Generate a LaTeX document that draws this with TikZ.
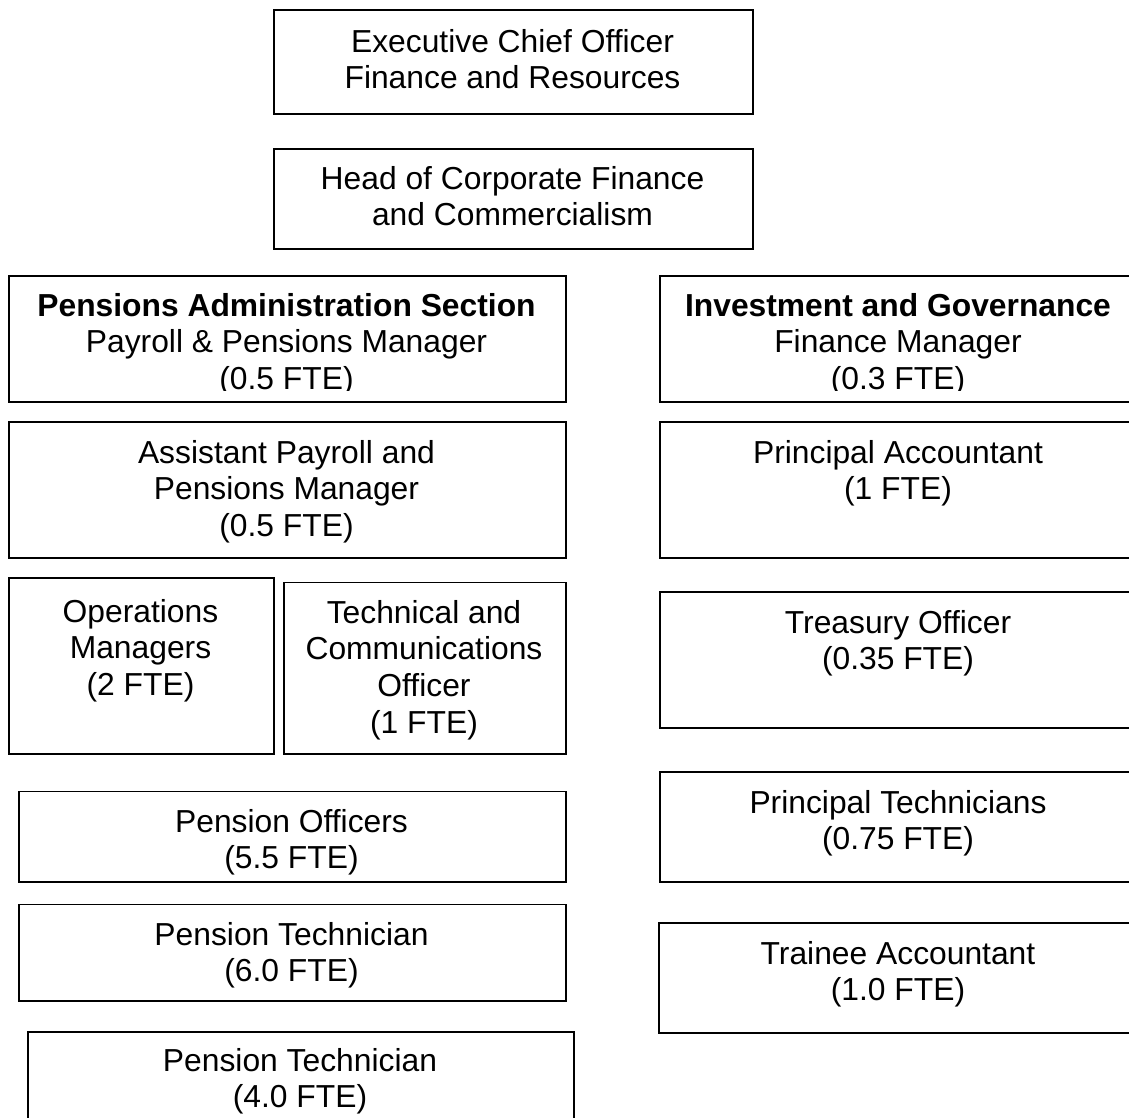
\documentclass[tikz,border=0pt]{standalone}
\usepackage{fontspec}
\setmainfont{Liberation Sans}
\begin{document}
\begin{tikzpicture}[x=1pt,y=-1pt,
  orgbox/.style={draw=black, line width=1.5pt, inner sep=0pt, anchor=north west},
  lbl/.style={anchor=north, align=center, inner sep=0pt, font=\fontsize{31.8}{36.6}\selectfont}]
\clip (0,0) rectangle (1129,1117);
\fill[white] (0,0) rectangle (1129,1117);
% boxes
\node[orgbox, minimum width=479pt, minimum height=104pt] (exec) at (273,9) {};
\node[orgbox, minimum width=479pt, minimum height=100pt] (head) at (273,148) {};
\node[orgbox, minimum width=557pt, minimum height=126pt] (pas) at (8,275) {};
\node[orgbox, minimum width=478pt, minimum height=126pt] (ig) at (659,275) {};
\node[orgbox, minimum width=557pt, minimum height=136pt] (apm) at (8,421) {};
\node[orgbox, minimum width=478pt, minimum height=136pt] (pa) at (659,421) {};
\node[orgbox, minimum width=265pt, minimum height=176pt] (ops) at (8,577) {};
\node[orgbox, minimum width=282pt, minimum height=171.5pt] (tco) at (283,581.5) {};
\node[orgbox, minimum width=478pt, minimum height=136pt] (tro) at (659,591) {};
\node[orgbox, minimum width=547pt, minimum height=90.5pt] (po) at (18,790.5) {};
\node[orgbox, minimum width=478pt, minimum height=110pt] (pt) at (659,771) {};
\node[orgbox, minimum width=547pt, minimum height=96.5pt] (pt6) at (18,903.5) {};
\node[orgbox, minimum width=479pt, minimum height=110pt] (ta) at (658,922) {};
\node[orgbox, minimum width=546pt, minimum height=120pt] (pt4) at (27,1031) {};
% texts
\node[lbl] (exec-t) at (512.5,29) {Executive Chief Officer\\Finance and Resources};
\node[lbl] (head-t) at (512.5,166) {Head of Corporate Finance\\and Commercialism};
\begin{scope}
\clip (0,0) rectangle (1129,390);
\node[lbl] (pas-t) at (286.5,293) {\textbf{Pensions Administration Section}\\Payroll \& Pensions Manager\\(0.5 FTE)};
\node[lbl] (ig-t) at (898,293) {\textbf{Investment and Governance}\\Finance Manager\\(0.3 FTE)};
\end{scope}
\node[lbl] (apm-t) at (286.5,440) {Assistant Payroll and\\Pensions Manager\\(0.5 FTE)};
\node[lbl] (pa-t) at (898,440) {Principal Accountant\\(1 FTE)};
\node[lbl] (ops-t) at (140.5,599) {Operations\\Managers\\(2 FTE)};
\node[lbl] (tco-t) at (424,600) {Technical and\\Communications\\Officer\\(1 FTE)};
\node[lbl] (tro-t) at (898,610) {Treasury Officer\\(0.35 FTE)};
\node[lbl] (po-t) at (291.5,809) {Pension Officers\\(5.5 FTE)};
\node[lbl] (pt-t) at (898,790) {Principal Technicians\\(0.75 FTE)};
\node[lbl] (pt6-t) at (291.5,922) {Pension Technician\\(6.0 FTE)};
\node[lbl] (ta-t) at (898,941) {Trainee Accountant\\(1.0 FTE)};
\node[lbl] (pt4-t) at (300,1048) {Pension Technician\\(4.0 FTE)};
\end{tikzpicture}
\end{document}
